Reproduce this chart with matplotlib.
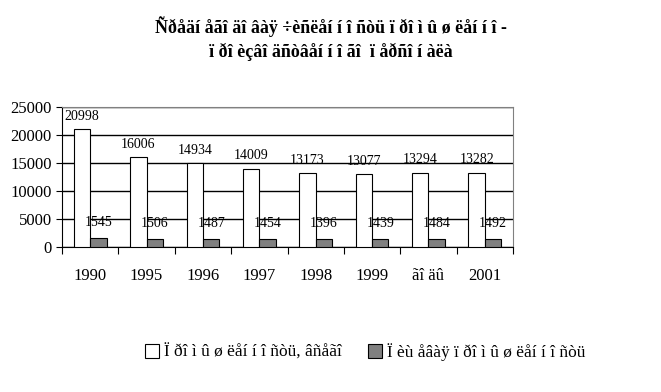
import numpy as np
import matplotlib.pyplot as plt
from matplotlib.patches import Patch

plt.rcParams['font.family'] = ['Liberation Serif', 'DejaVu Serif']

# ── 데이터 ──────────────────────────────────────────────
categories = ['1990', '1995', '1996', '1997', '1998', '1999', 'ãî äû', '2001']
total = [20998, 16006, 14934, 14009, 13173, 13077, 13294, 13282]
food = [1545, 1506, 1487, 1454, 1396, 1439, 1484, 1492]
title_lines = ['Ñðåäí åãî äî âàÿ ÷èñëåí í î ñòü ï ðî ì û ø ëåí í î -',
               'ï ðî èçâî äñòâåí í î ãî  ï åðñî í àëà']
legend_labels = ['Ï ðî ì û ø ëåí í î ñòü, âñåãî', 'Ï èù åâàÿ ï ðî ì û ø ëåí í î ñòü']

fig = plt.figure(figsize=(6.61, 3.92), dpi=100)
ax = fig.add_axes([62 / 661, 1 - 247 / 392, 451 / 661, 140 / 392])

x = np.arange(len(categories))
bw = 0.29
ax.bar(x - bw / 2, total, bw, color='white', edgecolor='black', lw=0.8, zorder=3)
ax.bar(x + bw / 2, food, bw, color='#808080', edgecolor='black', lw=0.8, zorder=3)

for xi, v in zip(x, total):
    ax.annotate(str(v), (xi - bw / 2, v), xytext=(0, 4.5), textcoords='offset points',
                ha='center', va='bottom', fontsize=10, zorder=4)
for xi, v in zip(x, food):
    ax.annotate(str(v), (xi + bw / 2, v), xytext=(0, 6.5), textcoords='offset points',
                ha='center', va='bottom', fontsize=10, zorder=4)

ax.set_xlim(-0.5, len(categories) - 0.5)
ax.set_ylim(0, 25000)
ax.set_yticks(range(0, 25001, 5000))
ax.yaxis.grid(True, color='black', lw=1, zorder=0)
ax.tick_params(axis='y', labelsize=12, length=4, direction='out')

# 범주 경계에 눈금
ax.set_xticks(np.arange(-0.5, len(categories), 1))
ax.set_xticklabels([])
ax.tick_params(axis='x', length=5, direction='out')
for xi, c in zip(x, categories):
    ax.text(xi, -0.21, c, transform=ax.get_xaxis_transform(), ha='center', va='center',
            fontsize=12)

for s in ['top', 'right']:
    ax.spines[s].set_color('#808080')

fig.text(0.5, 1 - 27 / 392, title_lines[0], ha='center', va='center', fontsize=13, fontweight='bold')
fig.text(0.5, 1 - 52 / 392, title_lines[1], ha='center', va='center', fontsize=13, fontweight='bold')

handles = [Patch(facecolor='white', edgecolor='black', lw=0.8),
           Patch(facecolor='#808080', edgecolor='black', lw=0.8)]
fig.legend(handles, legend_labels, loc='center', bbox_to_anchor=(0.553, 1 - 352 / 392),
           ncol=2, frameon=False, fontsize=12.5, handlelength=0.8, handleheight=0.8,
           handletextpad=0.3, columnspacing=1.5)

plt.savefig('out.png', dpi=100)
plt.close()
